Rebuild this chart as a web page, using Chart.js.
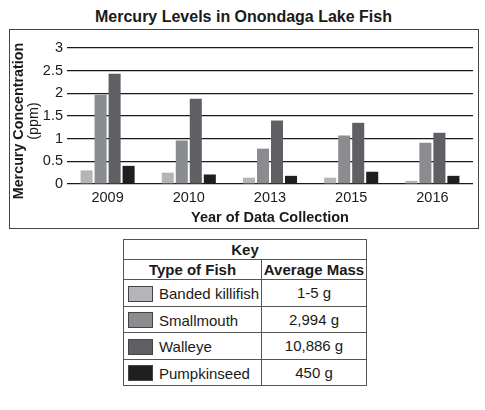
<!DOCTYPE html>
<html>
<head>
<meta charset="utf-8">
<script src="https://cdn.jsdelivr.net/npm/chart.js@4.4.1/dist/chart.umd.min.js"></script>
<style>
  body { margin: 0; background: #fff; font-family: "Liberation Sans", Arial, sans-serif; color: #1a1a1a; }
  #title { position: absolute; left: 0; top: 8px; width: 487px; text-align: center; font-weight: bold; font-size: 16px; }
  #frame { position: absolute; left: 9px; top: 29px; width: 468px; height: 198px; border: 1px solid #444; }
  #key { position: absolute; left: 123px; top: 239px; border-collapse: collapse; font-size: 15px; }
  #key td, #key th { border: 1.5px solid #555; padding: 0; }
  #key th { font-weight: bold; height: 19px; }
  #key td { height: 25.5px; }
  #key .c1 { width: 137px; }
  #key .c2 { width: 104px; text-align: center; }
  .sw { display: inline-block; width: 23px; height: 14px; border: 1px solid #444; vertical-align: middle; margin: 0 6px 0 4px; }
  .nm { vertical-align: middle; }
</style>
</head>
<body>
<div id="title">Mercury Levels in Onondaga Lake Fish</div>
<div id="frame"><canvas id="barChart" width="468" height="198"></canvas></div>
<table id="key">
  <tr><th colspan="2">Key</th></tr>
  <tr><th class="c1">Type of Fish</th><th class="c2">Average Mass</th></tr>
</table>
<script>
const CHART = document.getElementById('barChart');

// data
var years = ['2009', '2010', '2013', '2015', '2016'];
var fish = ['Banded killifish', 'Smallmouth', 'Walleye', 'Pumpkinseed'];
var masses = ['1-5 g', '2,994 g', '10,886 g', '450 g'];
var killifish = [0.30, 0.25, 0.14, 0.14, 0.07];
var smallmouth = [1.97, 0.96, 0.78, 1.07, 0.91];
var walleye = [2.43, 1.88, 1.40, 1.35, 1.13];
var pumpkinseed = [0.40, 0.21, 0.18, 0.27, 0.18];
var yTicks = [0, 0.5, 1, 1.5, 2, 2.5, 3];

var series = [killifish, smallmouth, walleye, pumpkinseed];
var colors = ['#b4b5b8', '#8b8c8f', '#5f6064', '#1f1f1f'];

// key table
var key = document.getElementById('key');
fish.forEach(function(f, i) {
  var tr = document.createElement('tr');
  tr.innerHTML = '<td class="c1"><span class="sw" style="background:' + colors[i] + '"></span><span class="nm">' + f + '</span></td>' +
                 '<td class="c2">' + masses[i] + '</td>';
  key.appendChild(tr);
});

// y title with a bold line and a plain line
var yTitle = {
  id: 'yTitle',
  afterDraw: function(chart) {
    var ctx = chart.ctx;
    var cy = (chart.chartArea.top + chart.chartArea.bottom) / 2 + 5;
    ctx.save();
    ctx.fillStyle = '#1a1a1a';
    ctx.textAlign = 'center';
    ctx.textBaseline = 'middle';
    ctx.translate(9, cy);
    ctx.rotate(-Math.PI / 2);
    ctx.font = 'bold 14.3px "Liberation Sans"';
    ctx.fillText('Mercury Concentration', 0, 0);
    ctx.restore();
    ctx.save();
    ctx.fillStyle = '#1a1a1a';
    ctx.textAlign = 'center';
    ctx.textBaseline = 'middle';
    ctx.translate(24, cy);
    ctx.rotate(-Math.PI / 2);
    ctx.font = '14.3px "Liberation Sans"';
    ctx.fillText('(ppm)', 0, 0);
    ctx.restore();
  }
};

var barChart = new Chart(CHART, {
  type: 'bar',
  data: {
    labels: years,
    datasets: fish.map(function(f, i) {
      return {
        label: f,
        data: series[i],
        backgroundColor: colors[i],
        borderWidth: 0,
        categoryPercentage: 0.69,
        barPercentage: 0.86
      };
    })
  },
  options: {
    responsive: false,
    animation: false,
    layout: { padding: { top: 18, right: 5, left: 0, bottom: 0 } },
    plugins: {
      legend: { display: false },
      tooltip: { enabled: false }
    },
    scales: {
      x: {
        grid: { display: false, drawTicks: false },
        border: { display: false },
        ticks: { color: '#1a1a1a', font: { family: 'Liberation Sans', size: 14.5 }, padding: 5 },
        title: {
          display: true,
          text: 'Year of Data Collection',
          color: '#1a1a1a',
          font: { family: 'Liberation Sans', size: 14.5, weight: 'bold' },
          padding: { top: 0, bottom: 1 }
        },
        afterFit: function(s) { s.height = 44; }
      },
      y: {
        min: 0,
        max: 3,
        afterBuildTicks: function(s) { s.ticks = yTicks.map(function(v) { return { value: v }; }); },
        grid: { color: '#1a1a1a', lineWidth: 1.2, drawTicks: false },
        border: { display: false },
        ticks: {
          color: '#1a1a1a',
          font: { family: 'Liberation Sans', size: 14.5 },
          padding: 4,
          callback: function(v) { return String(v); }
        },
        afterFit: function(s) { s.width = 57; }
      }
    }
  },
  plugins: [yTitle]
});
</script>
</body>
</html>
